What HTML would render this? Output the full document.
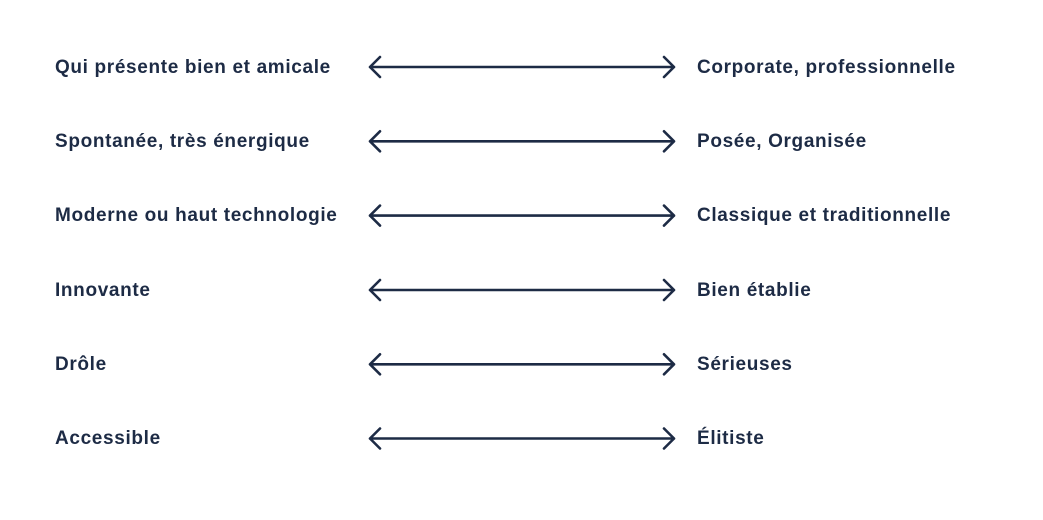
<!DOCTYPE html>
<html><head><meta charset="utf-8"><style>
body{margin:0;width:1043px;height:520px;background:#fff;position:relative;overflow:hidden;font-family:"Liberation Sans",sans-serif;font-weight:bold;color:#1d2b45;font-size:19px;letter-spacing:0.65px}
.t{position:absolute;line-height:20px}
svg{position:absolute;left:0;top:0}
</style></head><body>
<div class="t" style="left:55px;top:58px">Qui présente bien et amicale</div>
<div class="t" style="left:697px;top:58px">Corporate, professionnelle</div>
<div class="t" style="left:55px;top:132px">Spontanée, très énergique</div>
<div class="t" style="left:697px;top:132px">Posée, Organisée</div>
<div class="t" style="left:55px;top:206px">Moderne ou haut technologie</div>
<div class="t" style="left:697px;top:206px">Classique et traditionnelle</div>
<div class="t" style="left:55px;top:281px">Innovante</div>
<div class="t" style="left:697px;top:281px">Bien établie</div>
<div class="t" style="left:55px;top:355px">Drôle</div>
<div class="t" style="left:697px;top:355px">Sérieuses</div>
<div class="t" style="left:55px;top:429px">Accessible</div>
<div class="t" style="left:697px;top:429px">Élitiste</div>
<svg width="1043" height="520" fill="none" stroke="#1d2b45" stroke-width="2.6" stroke-linecap="round" stroke-linejoin="round">
<g id="a"><path d="M370 67H674M380 57L370 67L380 77M664 57L674 67L664 77"/></g>
<use href="#a" y="74.3"/><use href="#a" y="148.6"/><use href="#a" y="223"/><use href="#a" y="297.3"/><use href="#a" y="371.5"/>
</svg>
</body></html>
